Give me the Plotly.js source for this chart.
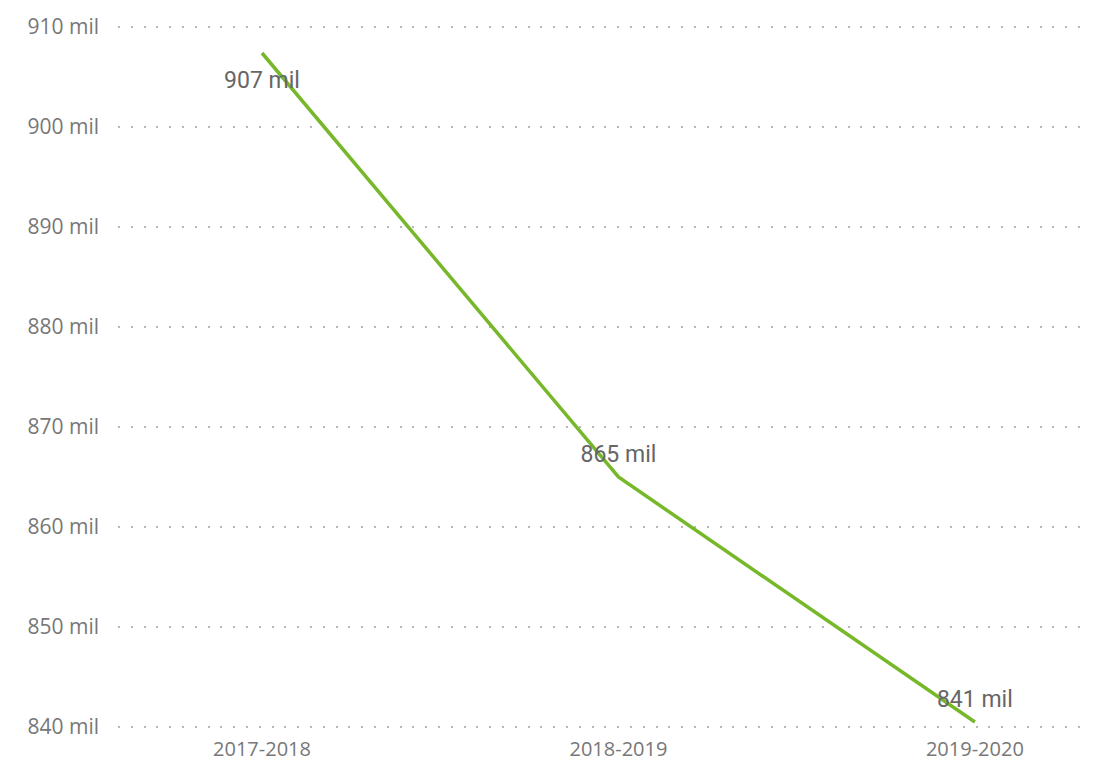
<!DOCTYPE html>
<html>
<head>
<meta charset="utf-8">
<script src="https://cdn.plot.ly/plotly-3.0.1.min.js"></script>
<style>html,body{margin:0;padding:0;background:#fff;}#chart{width:1101px;height:762px;}</style>
</head>
<body>
<div id="chart"></div>
<script>
var categories = ["2017-2018", "2018-2019", "2019-2020"];
var valuesThousands = [907.4, 865.0, 840.5];
var labelPositions = ["bottom center", "top center", "top center"];
var yTickVals = [840, 850, 860, 870, 880, 890, 900, 910];
var yTickText = yTickVals.map(function(v){ return v + " mil"; });

var trace = {
  x: categories,
  y: valuesThousands,
  mode: "lines+markers+text",
  line: {color: "#76b82a", width: 3.5},
  marker: {size: [26, 14, 14], color: "rgba(0,0,0,0)", opacity: 0, line: {width: 0, color: "rgba(0,0,0,0)"}},
  texttemplate: "%{y:.0f} mil",
  textposition: labelPositions,
  textfont: {family: "Roboto, sans-serif", size: 23, color: "#666666", weight: 400},
  hoverinfo: "skip",
  cliponaxis: false
};

var layout = {
  width: 1101, height: 762,
  margin: {l: 118, r: 11, t: 22, b: 30},
  paper_bgcolor: "#fff", plot_bgcolor: "#fff",
  showlegend: false,
  xaxis: {
    type: "category",
    range: [-0.404, 2.323],
    showgrid: false, zeroline: false, showline: false,
    ticks: "",
    ticklabelstandoff: 3,
    tickfont: {family: "Open Sans, sans-serif", size: 20, color: "#777777"}
  },
  yaxis: {
    range: [839.5, 910.5],
    tickvals: yTickVals,
    ticktext: yTickText,
    showgrid: true, gridcolor: "#b8b8b8", gridwidth: 2, griddash: "2px,10.8px",
    zeroline: false, showline: false, ticks: "",
    ticklabelstandoff: 18,
    tickfont: {family: "Open Sans, sans-serif", size: 21, color: "#777777"}
  }
};

Plotly.newPlot("chart", [trace], layout, {displayModeBar: false, staticPlot: true});
</script>
</body>
</html>
